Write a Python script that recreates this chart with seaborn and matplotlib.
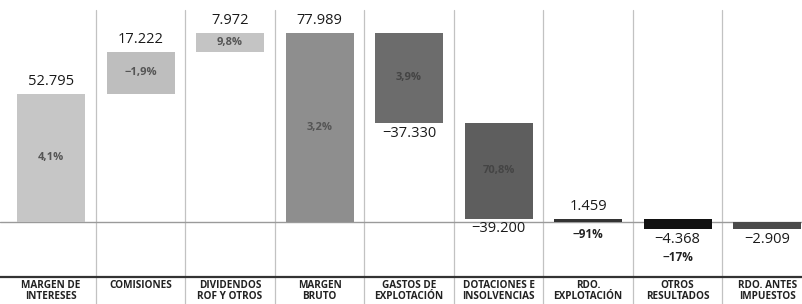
import matplotlib
matplotlib.use("Agg")
import matplotlib.pyplot as plt
import seaborn as sns

# data (millones de euros)
categories = ["MARGEN DE\nINTERESES", "COMISIONES", "DIVIDENDOS\nROF Y OTROS",
              "MARGEN\nBRUTO", "GASTOS DE\nEXPLOTACIÓN", "DOTACIONES E\nINSOLVENCIAS",
              "RDO.\nEXPLOTACIÓN", "OTROS\nRESULTADOS", "RDO. ANTES\nIMPUESTOS"]
values = [52.795, 17.222, 7.972, 77.989, -37.330, -39.200, 1.459, -4.368, -2.909]
is_total = [False, False, False, True, False, False, True, False, True]
value_labels = ["52.795", "17.222", "7.972", "77.989", "−37.330", "−39.200",
                "1.459", "−4.368", "−2.909"]
changes = ["4,1%", "−1,9%", "9,8%", "3,2%", "3,9%", "70,8%", "−91%", "−17%", ""]
bar_colors = ["#c6c6c6", "#bebebe", "#c4c4c4", "#8e8e8e", "#6c6c6c",
              "#5e5e5e", "#333333", "#121212", "#4a4a4a"]

sns.set_theme(style="white")
plt.rcParams["font.family"] = ["Open Sans", "DejaVu Sans"]

# waterfall bottoms
bottoms = []
heights = []
running = 0.0
for v, tot in zip(values, is_total):
    if tot:
        bottoms.append(0.0)
        heights.append(v)
        running = v
    else:
        bottoms.append(running)
        heights.append(v)
        running += v

fig = plt.figure(figsize=(8.02, 3.04), dpi=100)
ax = fig.add_axes([0, 27 / 304, 1, 277 / 304])

x = list(range(len(categories)))
ax.bar(x, heights, bottom=bottoms, width=0.76, color=bar_colors, linewidth=0, zorder=3)

ax.set_xlim(-0.57, 8.39)
ax.set_ylim(-22.6, 91.4)

# zero line and separators
ax.axhline(0, color="#9a9a9a", lw=1.0, zorder=2)
for i in range(len(categories) - 1):
    ax.axvline(i + 0.5, ymin=-0.1, ymax=0.964, color="#c2c2c2", lw=0.9,
               clip_on=False, zorder=1)

for s in ["top", "left", "right"]:
    ax.spines[s].set_visible(False)
ax.spines["bottom"].set_color("#333333")
ax.spines["bottom"].set_linewidth(1.6)
ax.set_yticks([])
ax.set_xticks(x)
ax.set_xticklabels(categories, fontsize=7.2, fontweight="bold", color="#222222",
                   linespacing=0.95)
ax.tick_params(axis="x", length=0, pad=2.5)

# labels
for i, (b, h) in enumerate(zip(bottoms, heights)):
    top = max(b, b + h)
    low = min(b, b + h)
    if values[i] > 0:
        ax.annotate(value_labels[i], (i, top), xytext=(0, 3.5), textcoords="offset points",
                    ha="center", va="bottom", fontsize=10.5, color="#1a1a1a")
    else:
        ax.annotate(value_labels[i], (i, low), xytext=(0, -2), textcoords="offset points",
                    ha="center", va="top", fontsize=10.5, color="#1a1a1a")
    if changes[i] == "":
        continue
    if i <= 5:
        pc = "#555555" if i < 4 else "#444444"
        ax.text(i, b + h / 2, changes[i], ha="center", va="center",
                fontsize=8, fontweight="bold", color=pc, zorder=4)
    elif i == 6:
        ax.annotate(changes[i], (i, 0), xytext=(0, -4.5), textcoords="offset points",
                    ha="center", va="top", fontsize=8.5, fontweight="bold", color="#222222")
    else:
        ax.annotate(changes[i], (i, low), xytext=(0, -16), textcoords="offset points",
                    ha="center", va="top", fontsize=8.5, fontweight="bold", color="#222222")

fig.savefig("out.png", dpi=100)
